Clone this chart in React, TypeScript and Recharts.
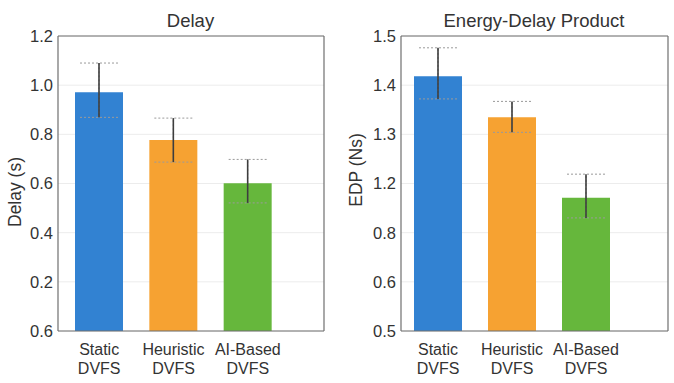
import React from "react";
import {
  BarChart, Bar, XAxis, YAxis, CartesianGrid, ErrorBar, Cell, Label,
} from "recharts";

const categories = ["Static\nDVFS", "Heuristic\nDVFS", "AI-Based\nDVFS"];
const barColors = ["#3282d2", "#f6a232", "#66b73c"];

// Delay panel (seconds)
const delayValues = [0.971, 0.777, 0.601];
const delayLow = [0.869, 0.687, 0.521];
const delayHigh = [1.09, 0.866, 0.698];
const delayTicks = [0, 0.2, 0.4, 0.6, 0.8, 1.0, 1.2];
const delayTickLabels = ["0.6", "0.2", "0.4", "0.6", "0.8", "1.0", "1.2"];

// EDP panel (axis is labelled unevenly in the source, positions kept linear)
const edpValues = [1.418, 1.335, 1.171];
const edpLow = [1.372, 1.304, 1.13];
const edpHigh = [1.476, 1.367, 1.219];
const edpTicks = [0.9, 1.0, 1.1, 1.2, 1.3, 1.4, 1.5];
const edpTickLabels = ["0.5", "0.6", "0.8", "1.2", "1.3", "1.4", "1.5"];

const FONT = "'Liberation Sans', Arial, Helvetica, sans-serif";
const TEXT = "#333";
const AXIS = "#6f6f6f";

const buildRows = (vals: number[], lo: number[], hi: number[]) =>
  categories.map((name, i) => ({
    name,
    value: vals[i],
    err: [vals[i] - lo[i], hi[i] - vals[i]],
  }));

// eslint-disable-next-line @typescript-eslint/no-explicit-any
const CategoryTick = ({ x, y, payload }: any) => {
  const lines = String(payload.value).split("\n");
  return (
    <text x={x} y={y} textAnchor="middle" fill={TEXT} fontSize={16} fontFamily={FONT}>
      {lines.map((l, i) => (
        <tspan key={i} x={x} dy={i === 0 ? 24 : 19}>{l}</tspan>
      ))}
    </text>
  );
};

interface PanelProps {
  title: string;
  yLabel: string;
  yLabelCenter: number;
  yLabelX: number;
  values: number[];
  low: number[];
  high: number[];
  ticks: number[];
  tickLabels: string[];
  axisWidth: number;
  marginRight: number;
  padding: { left: number; right: number };
}

function Panel(p: PanelProps) {
  const rows = buildRows(p.values, p.low, p.high);
  const domain: [number, number] = [p.ticks[0], p.ticks[p.ticks.length - 1]];
  const titleX = (p.axisWidth + 337 - p.marginRight) / 2;
  return (
    <BarChart
      width={337}
      height={383}
      data={rows}
      margin={{ top: 36, right: p.marginRight - 1, left: 0, bottom: 0 }}
      style={{ fontFamily: FONT }}
    >
      <CartesianGrid vertical={false} stroke="#ececec" yAxisId="l" xAxisId="b" />
      <XAxis
        xAxisId="b"
        dataKey="name"
        height={52}
        padding={p.padding}
        axisLine={{ stroke: AXIS, strokeWidth: 1.2 }}
        tickLine={false}
        tickSize={0}
        tickMargin={0}
        interval={0}
        tick={<CategoryTick />}
      />
      <XAxis
        xAxisId="t"
        orientation="top"
        type="number"
        domain={[0, 1]}
        ticks={[0.5]}
        height={1}
        mirror
        tick={false}
        tickSize={4}
        axisLine={{ stroke: AXIS, strokeWidth: 1.2 }}
        tickLine={{ stroke: AXIS }}
      />
      <YAxis
        yAxisId="l"
        type="number"
        domain={domain}
        ticks={p.ticks}
        width={p.axisWidth}
        axisLine={{ stroke: AXIS, strokeWidth: 1.2 }}
        tickLine={false}
        tickSize={0}
        tickMargin={5}
        tick={{ fill: TEXT, fontSize: 16.5, fontFamily: FONT }}
        tickFormatter={(_v: number, i: number) => p.tickLabels[i]}
      >
        <Label
          content={() => (
            <g>
              <text x={titleX} y={27} textAnchor="middle" fill={TEXT} fontSize={18.5} fontFamily={FONT}>
                {p.title}
              </text>
              <text
                x={p.yLabelX}
                y={p.yLabelCenter}
                transform={`rotate(-90 ${p.yLabelX} ${p.yLabelCenter})`}
                textAnchor="middle"
                dominantBaseline="central"
                fill={TEXT}
                fontSize={17.5}
                fontFamily={FONT}
              >
                {p.yLabel}
              </text>
            </g>
          )}
        />
      </YAxis>
      <YAxis
        yAxisId="r"
        orientation="right"
        type="number"
        domain={domain}
        ticks={p.ticks}
        width={1}
        mirror
        tick={false}
        tickSize={4}
        axisLine={{ stroke: AXIS, strokeWidth: 1.2 }}
        tickLine={{ stroke: AXIS }}
      />
      <Bar dataKey="value" xAxisId="b" yAxisId="l" barSize={48} isAnimationActive={false}>
        {rows.map((r, i) => (
          <Cell key={r.name} fill={barColors[i]} />
        ))}
        <ErrorBar dataKey="err" width={19} stroke="#9a9a9a" strokeWidth={1} strokeDasharray="2 2" />
        <ErrorBar dataKey="err" width={0} stroke="#3d3d3d" strokeWidth={1.6} />
      </Bar>
    </BarChart>
  );
}

export default function App() {
  return (
    <div style={{ position: "absolute", left: 0, top: 0, width: 674, height: 383, background: "#fff" }}>
      <div style={{ position: "absolute", left: 0, top: 0 }}>
        <Panel
          title="Delay"
          yLabel="Delay (s)"
          yLabelX={15}
          yLabelCenter={192}
          values={delayValues}
          low={delayLow}
          high={delayHigh}
          ticks={delayTicks}
          tickLabels={delayTickLabels}
          axisWidth={58}
          marginRight={14}
          padding={{ left: 4, right: 39 }}
        />
      </div>
      <div style={{ position: "absolute", left: 337, top: 0 }}>
        <Panel
          title="Energy-Delay Product"
          yLabel="EDP (Ns)"
          yLabelX={19}
          yLabelCenter={170}
          values={edpValues}
          low={edpLow}
          high={edpHigh}
          ticks={edpTicks}
          tickLabels={edpTickLabels}
          axisWidth={64}
          marginRight={7}
          padding={{ left: 0, right: 45 }}
        />
      </div>
    </div>
  );
}
